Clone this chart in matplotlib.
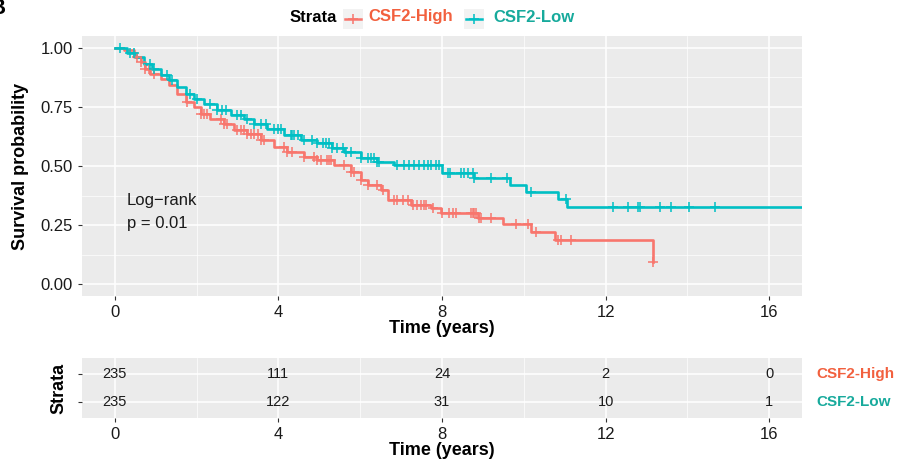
import numpy as np
import matplotlib
matplotlib.use("Agg")
import matplotlib.pyplot as plt
from matplotlib.lines import Line2D
from matplotlib.patches import Rectangle

plt.rcParams['font.family'] = ['Liberation Sans', 'DejaVu Sans']

# ---- data ----
groups = ['CSF2-High', 'CSF2-Low']
line_colors = ['#F8766D', '#00BFC4']
text_colors = ['#F2603E', '#17AA9C']

# step curve (time in years, survival after the step)
high_t = [0, 0.22, 0.47, 0.63, 0.75, 0.87, 1.12, 1.32, 1.53, 1.73, 1.93, 2.1, 2.34, 2.67,
          2.91, 3.24, 3.57, 3.89, 4.22, 4.63, 4.95, 5.36, 5.77, 6.01, 6.18, 6.5, 6.67, 7.24,
          7.73, 7.97, 8.87, 9.48, 10.18, 10.75, 13.15]
high_s = [1.0, 0.99, 0.962, 0.941, 0.912, 0.891, 0.87, 0.842, 0.806, 0.771, 0.75, 0.722, 0.70, 0.679,
          0.651, 0.637, 0.609, 0.58, 0.559, 0.538, 0.525, 0.504, 0.476, 0.441, 0.42, 0.399, 0.356, 0.335,
          0.321, 0.30, 0.278, 0.254, 0.222, 0.186, 0.094]

low_t = [0, 0.30, 0.51, 0.71, 0.92, 1.12, 1.32, 1.53, 1.73, 1.93, 2.18, 2.51, 2.83, 3.16,
         3.40, 3.73, 4.14, 4.55, 4.95, 5.3, 5.6, 6.01, 6.4, 6.83, 8.01, 8.79, 9.65, 10.05,
         10.83, 11.05]
low_s = [1.0, 0.976, 0.962, 0.933, 0.912, 0.884, 0.863, 0.835, 0.806, 0.785, 0.764, 0.736, 0.715, 0.70,
         0.679, 0.658, 0.63, 0.609, 0.596, 0.575, 0.561, 0.533, 0.518, 0.504, 0.469, 0.448, 0.419, 0.391,
         0.359, 0.328]

# censor times
high_cens = [0.55, 0.63, 0.75, 0.83, 0.95, 1.77, 2.10, 2.18, 2.26, 2.59, 2.67, 2.75, 3.0, 3.08,
             3.16, 3.24, 3.32, 3.40, 3.49, 3.57, 3.65, 4.14, 4.22, 4.34, 4.63, 4.87, 4.95, 5.03,
             5.20, 5.24, 5.28, 5.61, 5.77, 5.85, 6.01, 6.18, 6.42, 6.55, 6.83, 6.91, 7.04, 7.16,
             7.28, 7.40, 7.48, 7.55, 7.62, 7.77, 8.01, 8.18, 8.26, 8.34, 8.71, 8.75, 8.79, 8.83,
             8.91, 8.95, 9.2, 9.81, 10.1, 10.3, 10.83, 10.91, 11.15, 13.15]
low_cens = [0.14, 0.38, 0.47, 0.87, 0.95, 1.28, 1.41, 1.85, 2.02, 2.34, 2.51, 2.63, 2.71, 3.0,
            3.08, 3.24, 3.40, 3.57, 3.69, 3.89, 3.98, 4.06, 4.30, 4.34, 4.38, 4.47, 4.63, 4.83,
            4.95, 5.08, 5.16, 5.24, 5.32, 5.44, 5.57, 5.65, 5.77, 6.01, 6.18, 6.26, 6.34, 6.42,
            6.46, 6.91, 7.07, 7.20, 7.32, 7.44, 7.56, 7.65, 7.73, 7.85, 7.93, 8.15, 8.2, 8.46,
            8.54, 8.63, 8.75, 8.79, 9.2, 9.6, 10.18, 11.03, 12.18, 12.55, 12.79, 12.85, 13.34,
            13.59, 14.03, 14.68]
low_end = 16.8

risk_times = [0, 4, 8, 12, 16]
risk_high = [235, 111, 24, 2, 0]
risk_low = [235, 122, 31, 10, 1]

curves = [(high_t, high_s, high_cens, high_t[-1]), (low_t, low_s, low_cens, low_end)]

fig = plt.figure(figsize=(9.02, 4.65), dpi=100)
W, H = 902, 465


def style_panel(ax):
    ax.set_facecolor('#EBEBEB')
    for sp in ax.spines.values():
        sp.set_visible(False)
    ax.grid(True, which='major', color='white', linewidth=1.1)
    ax.grid(True, which='minor', color='white', linewidth=0.5)
    ax.set_axisbelow(True)
    ax.tick_params(which='major', length=3, color='#333333', labelsize=12, labelcolor='#1a1a1a')
    ax.tick_params(which='minor', length=0)


# ---- main survival plot ----
ax = fig.add_axes([82 / W, 1 - 296 / H, 720 / W, 260 / H])
style_panel(ax)
for (t, s, cens, tend), col in zip(curves, line_colors):
    tt = np.append(t, tend)
    ss = np.append(s, s[-1])
    ax.plot(tt, ss, drawstyle='steps-post', color=col, linewidth=1.9, zorder=3)
    idx = np.searchsorted(t, cens, side='right') - 1
    ax.plot(cens, np.array(s)[idx], linestyle='none', marker='+', markersize=7,
            markeredgewidth=1.1, color=col, zorder=4)

ax.set_xlim(-0.8, 16.8)
ax.set_ylim(-0.05, 1.05)
ax.set_xticks(risk_times)
ax.set_xticks([2, 6, 10, 14], minor=True)
ax.set_yticks([0, 0.25, 0.5, 0.75, 1.0])
ax.set_yticks([0.125, 0.375, 0.625, 0.875], minor=True)
ax.set_yticklabels(['0.00', '0.25', '0.50', '0.75', '1.00'])
ax.set_xlabel('Time (years)', fontsize=13, fontweight='bold', labelpad=0)
ax.set_ylabel('Survival probability', fontsize=13, fontweight='bold', labelpad=8)
ax.text(0.3, 0.305, 'Log\u2212rank\np = 0.01', fontsize=12, color='#1a1a1a',
        va='center', ha='left', linespacing=1.6)

# ---- legend on top ----
fig.text(290 / W, 1 - 17 / H, 'Strata', fontsize=12, fontweight='bold', va='center', ha='left')
key_x = [343, 464]
lab_x = [368, 493]
for kx, lx, g, lc, tc in zip(key_x, lab_x, groups, line_colors, text_colors):
    fig.patches.append(Rectangle((kx / W, 1 - 29 / H), 20 / W, 20 / H, transform=fig.transFigure,
                                 facecolor='#F2F2F2', edgecolor='none'))
    fig.lines.append(Line2D([(kx + 2) / W, (kx + 18) / W], [1 - 19 / H, 1 - 19 / H],
                            transform=fig.transFigure, color=lc, linewidth=1.8))
    fig.lines.append(Line2D([(kx + 10) / W], [1 - 19 / H], transform=fig.transFigure,
                            marker='+', markersize=7, markeredgewidth=1.1, color=lc))
    fig.text(lx / W, 1 - 17 / H, g, fontsize=12, fontweight='bold', color=tc, va='center', ha='left')

# ---- risk table ----
axr = fig.add_axes([82 / W, 1 - 418 / H, 720 / W, 60 / H])
style_panel(axr)
rows = [2, 1]
for y, vals in zip(rows, [risk_high, risk_low]):
    for t, v in zip(risk_times, vals):
        axr.text(t, y, str(v), ha='center', va='center', fontsize=10.5, color='#1a1a1a')
axr.set_xlim(-0.8, 16.8)
axr.set_ylim(0.42, 2.58)
axr.set_xticks(risk_times)
axr.set_xticks([2, 6, 10, 14], minor=True)
axr.set_yticks(rows)
axr.set_yticklabels(['', ''])
axr.set_xlabel('Time (years)', fontsize=13, fontweight='bold', labelpad=0)
axr.set_ylabel('Strata', fontsize=13, fontweight='bold', labelpad=4)
for y, g, tc in zip(rows, groups, text_colors):
    axr.text(1.02, (y - 0.42) / 2.16, g, transform=axr.transAxes, fontsize=11, fontweight='bold',
             color=tc, va='center', ha='left')

# cut-off panel letter in the corner
fig.text(-0.012, 1.005, 'B', fontsize=16, fontweight='bold', va='top', ha='left')

fig.savefig('out.png', dpi=100)
